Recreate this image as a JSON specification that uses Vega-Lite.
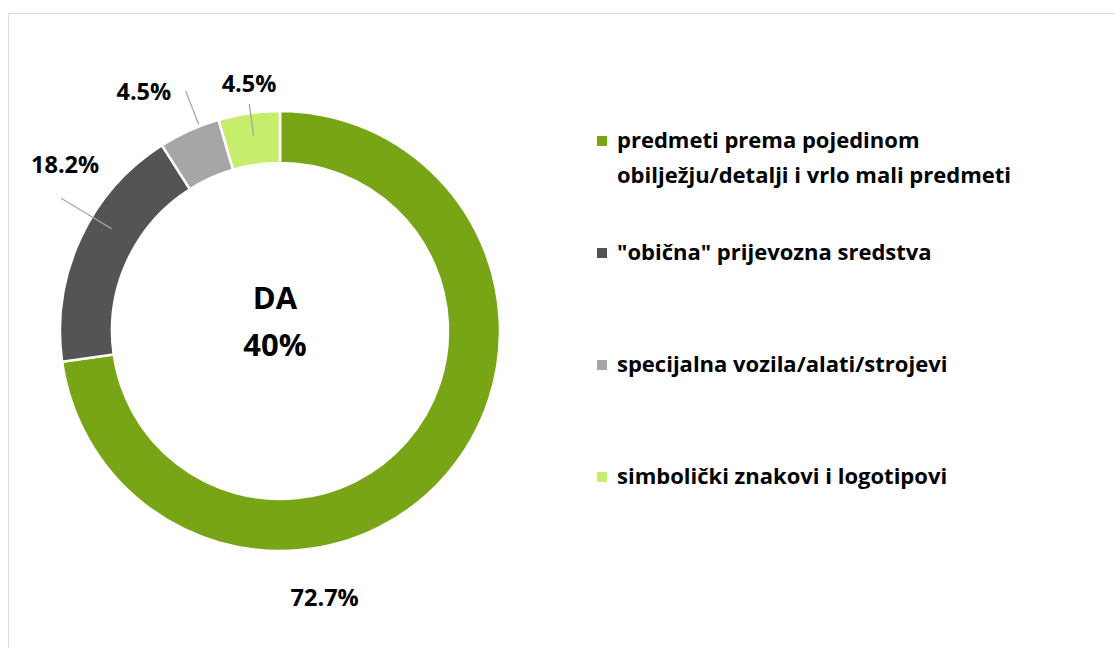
{
  "$schema": "https://vega.github.io/schema/vega-lite/v6.json",
  "width": 1107,
  "height": 635,
  "autosize": "none",
  "padding": {"left": 8, "top": 13, "right": 0, "bottom": 0},
  "background": "white",
  "config": {
    "view": {"stroke": "#D9D9D9", "strokeWidth": 1},
    "font": "Open Sans",
    "style": {"guide-label": {"lineHeight": 35}}
  },
  "datasets": {
    "shares": [
      {"category": "predmeti prema pojedinom obilježju/detalji i vrlo mali predmeti", "value": 72.7, "label": "72.7%", "rank": 1},
      {"category": "\"obična\" prijevozna sredstva", "value": 18.2, "label": "18.2%", "rank": 2},
      {"category": "specijalna vozila/alati/strojevi", "value": 4.5, "label": "4.5%", "rank": 3},
      {"category": "simbolički znakovi i logotipovi", "value": 4.5, "label": "4.5%", "rank": 4}
    ],
    "center": [{"title": "DA", "pct": "40%"}]
  },
  "layer": [
    {
      "data": {"name": "shares"},
      "mark": {"type": "arc", "stroke": "white", "strokeWidth": 2.5},
      "encoding": {
        "x": {"value": 272},
        "y": {"value": 318},
        "theta": {"field": "value", "type": "quantitative", "stack": true},
        "order": {"field": "rank", "type": "quantitative"},
        "radius": {"value": 220},
        "radius2": {"value": 168},
        "color": {
          "field": "category",
          "type": "nominal",
          "scale": {
            "domain": [
              "predmeti prema pojedinom obilježju/detalji i vrlo mali predmeti",
              "\"obična\" prijevozna sredstva",
              "specijalna vozila/alati/strojevi",
              "simbolički znakovi i logotipovi"
            ],
            "range": ["#77A515", "#545454", "#A6A6A6", "#C6EE6C"]
          },
          "legend": {
            "orient": "none",
            "legendX": 583,
            "legendY": 117,
            "title": null,
            "padding": 0,
            "symbolType": "square",
            "symbolSize": 100,
            "symbolStrokeWidth": 0,
            "labelFont": "Open Sans",
            "labelFontSize": 22,
            "labelFontWeight": "bold",
            "labelColor": "black",
            "labelOffset": 4,
            "labelLimit": 800,
            "rowPadding": 55,
            "labelExpr": "indexof(datum.label, 'predmeti prema') == 0 ? ['predmeti prema pojedinom', 'obilježju/detalji i vrlo mali predmeti'] : [datum.label, '']"
          }
        }
      }
    },
    {
      "data": {"name": "shares"},
      "mark": {"type": "arc", "padAngle": 3.14159, "fillOpacity": 0, "stroke": "#A6A6A6", "strokeWidth": 1.3, "thetaOffset": 0.113},
      "encoding": {
        "x": {"value": 272},
        "y": {"value": 318},
        "theta": {"field": "value", "type": "quantitative", "stack": true},
        "order": {"field": "rank", "type": "quantitative"},
        "detail": {"field": "category", "type": "nominal"},
        "radius": {"value": 256},
        "radius2": {"value": 197},
        "strokeOpacity": {"condition": {"test": "datum.rank == 2", "value": 1}, "value": 0}
      }
    },
    {
      "data": {"name": "shares"},
      "mark": {"type": "arc", "padAngle": 3.14159, "fillOpacity": 0, "stroke": "#A6A6A6", "strokeWidth": 1.3, "thetaOffset": 0.05},
      "encoding": {
        "x": {"value": 272},
        "y": {"value": 318},
        "theta": {"field": "value", "type": "quantitative", "stack": true},
        "order": {"field": "rank", "type": "quantitative"},
        "detail": {"field": "category", "type": "nominal"},
        "radius": {"value": 258},
        "radius2": {"value": 222},
        "strokeOpacity": {"condition": {"test": "datum.rank == 3", "value": 1}, "value": 0}
      }
    },
    {
      "data": {"name": "shares"},
      "mark": {"type": "arc", "padAngle": 3.14159, "fillOpacity": 0, "stroke": "#A6A6A6", "strokeWidth": 1.3, "thetaOffset": 0.007},
      "encoding": {
        "x": {"value": 272},
        "y": {"value": 318},
        "theta": {"field": "value", "type": "quantitative", "stack": true},
        "order": {"field": "rank", "type": "quantitative"},
        "detail": {"field": "category", "type": "nominal"},
        "radius": {"value": 229},
        "radius2": {"value": 197},
        "strokeOpacity": {"condition": {"test": "datum.rank == 4", "value": 1}, "value": 0}
      }
    },
    {
      "data": {"name": "shares"},
      "mark": {"type": "text", "font": "Open Sans", "fontSize": 23.5, "fontWeight": "bold", "color": "black", "dx": -144, "dy": 104},
      "encoding": {
        "x": {"value": 272},
        "y": {"value": 318},
        "theta": {"field": "value", "type": "quantitative", "stack": true},
        "order": {"field": "rank", "type": "quantitative"},
        "detail": {"field": "category", "type": "nominal"},
        "radius": {"value": 250},
        "text": {"condition": {"test": "datum.rank == 1", "field": "label"}, "value": ""}
      }
    },
    {
      "data": {"name": "shares"},
      "mark": {"type": "text", "font": "Open Sans", "fontSize": 23.5, "fontWeight": "bold", "color": "black", "dx": 23, "dy": -55},
      "encoding": {
        "x": {"value": 272},
        "y": {"value": 318},
        "theta": {"field": "value", "type": "quantitative", "stack": true},
        "order": {"field": "rank", "type": "quantitative"},
        "detail": {"field": "category", "type": "nominal"},
        "radius": {"value": 262},
        "text": {"condition": {"test": "datum.rank == 2", "field": "label"}, "value": ""}
      }
    },
    {
      "data": {"name": "shares"},
      "mark": {"type": "text", "font": "Open Sans", "fontSize": 23.5, "fontWeight": "bold", "color": "black", "dx": -27, "dy": 3},
      "encoding": {
        "x": {"value": 272},
        "y": {"value": 318},
        "theta": {"field": "value", "type": "quantitative", "stack": true},
        "order": {"field": "rank", "type": "quantitative"},
        "detail": {"field": "category", "type": "nominal"},
        "radius": {"value": 265},
        "text": {"condition": {"test": "datum.rank == 3", "field": "label"}, "value": ""}
      }
    },
    {
      "data": {"name": "shares"},
      "mark": {"type": "text", "font": "Open Sans", "fontSize": 23.5, "fontWeight": "bold", "color": "black", "dx": 4, "dy": 0},
      "encoding": {
        "x": {"value": 272},
        "y": {"value": 318},
        "theta": {"field": "value", "type": "quantitative", "stack": true},
        "order": {"field": "rank", "type": "quantitative"},
        "detail": {"field": "category", "type": "nominal"},
        "radius": {"value": 248},
        "text": {"condition": {"test": "datum.rank == 4", "field": "label"}, "value": ""}
      }
    },
    {
      "data": {"name": "center"},
      "mark": {"type": "text", "font": "Open Sans", "fontSize": 31, "fontWeight": "bold", "color": "black", "dy": -31, "dx": -5},
      "encoding": {
        "x": {"value": 272},
        "y": {"value": 318},
        "text": {"field": "title", "type": "nominal"}
      }
    },
    {
      "data": {"name": "center"},
      "mark": {"type": "text", "font": "Open Sans", "fontSize": 31, "fontWeight": "bold", "color": "black", "dy": 16, "dx": -5},
      "encoding": {
        "x": {"value": 272},
        "y": {"value": 318},
        "text": {"field": "pct", "type": "nominal"}
      }
    }
  ]
}
